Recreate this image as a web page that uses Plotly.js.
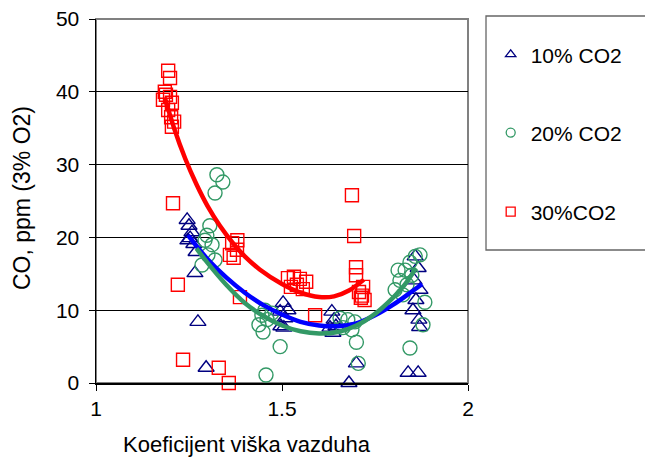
<!DOCTYPE html>
<html><head><meta charset="utf-8">
<script src="https://cdn.plot.ly/plotly-3.0.1.min.js"></script>
<style>html,body{margin:0;padding:0;background:#fff}#chart{width:645px;height:463px}</style>
</head><body><div id="chart"></div>
<script>
// 10% CO2 (triangles)
const x10 = [1.245,1.25,1.258,1.253,1.263,1.247,1.269,1.266,1.274,1.296,
  1.503,1.495,1.508,1.497,1.516,1.505,
  1.634,1.64,1.629,1.645,1.637,1.68,1.70,
  1.858,1.866,1.855,1.871,1.86,1.852,1.868,1.87,1.839,1.866];
const y10 = [22.4,21.6,20.7,19.9,19.1,19.6,18.0,15.1,8.4,2.1,
  11.0,9.8,8.9,7.8,10.0,7.6,
  9.8,8.7,7.6,7.8,6.9,0,2.7,
  17.4,15.8,14.1,12.8,11.4,10,8.7,7.7,1.4,1.4];
// 20% CO2 (circles)
const x20 = [1.325,1.341,1.32,
  1.306,1.293,1.312,1.301,1.32,1.285,1.298,
  1.446,1.46,1.438,1.473,1.454,1.449,1.495,1.457,
  1.656,1.677,1.696,1.664,1.688,1.70,1.705,
  1.804,1.817,1.831,1.844,1.858,1.871,1.812,1.825,1.836,1.849,1.884,1.879,1.844];
const y20 = [28.6,27.6,26.1,
  21.6,19.6,19,17.6,16.9,16.2,20.3,
  9.3,8.7,8,9.6,10,7.0,5.0,1.1,
  8.9,8.7,8.4,7.6,7.3,5.6,2.7,
  12.8,14.1,15.5,16.6,17.4,17.6,15.5,12.1,13.5,14.8,11.1,8.0,4.8];
// 30% CO2 (squares)
const x30 = [1.194,1.199,1.18,1.188,1.199,1.204,1.194,1.202,1.204,1.21,1.185,
  1.207,1.22,1.234,1.33,1.357,
  1.366,1.379,1.36,1.38,1.37,1.387,
  1.516,1.532,1.548,1.524,1.54,1.556,1.565,1.589,
  1.688,1.694,1.699,1.699,1.718,1.712,1.722,1.707,1.715];
const y30 = [42.9,41.9,38.9,39.6,39.3,38.5,37.5,36.5,35.2,35.9,40,
  24.7,13.5,3.2,2.1,0,
  19.2,18.3,17.6,19.6,17.2,11.8,
  14.4,14.6,14.3,13.2,13.5,12.9,13.9,9.3,
  25.8,20.2,15.9,14.8,13.2,11.7,11.4,12.5,12];
// trend lines
const tx10 = [1.247,1.30,1.35,1.40,1.45,1.50,1.55,1.60,1.65,1.70,1.75,1.80,1.85,1.877];
const ty10 = [20.3,17.0,14.5,12.4,10.7,9.4,8.4,7.9,7.8,8.2,9.3,10.8,12.6,13.6];
const tx20 = [1.27,1.30,1.35,1.40,1.45,1.50,1.55,1.60,1.65,1.70,1.75,1.80,1.83,1.86];
const ty20 = [18.5,16.5,13.5,11.0,9.2,7.9,7.1,6.8,7.0,7.9,9.5,11.8,13.5,15.8];
const tx30 = [1.185,1.21,1.24,1.27,1.30,1.333,1.37,1.40,1.44,1.50,1.55,1.60,1.64,1.68,1.72];
const ty30 = [39.2,35.0,30.8,27.3,24.3,21.6,19.1,17.4,15.6,13.6,12.4,11.8,11.9,12.7,14.2];
const names = ['10% CO2','20% CO2','30%CO2'];
const xTicks = [1,1.5,2];
const xTickText = ['1','1.5','2'];
const xTitle = 'Koeficijent viška vazduha';
const yTitle = 'CO, ppm (3% O2)';

const FONT = 'Liberation Sans, Arial, sans-serif';
const cBlue='#000080', cGreen='#339966', cRed='#FF0000';
const CLEAR='rgba(0,0,0,0)';
function pts(x,y,sym,col,size){return {x:x,y:y,type:'scatter',mode:'markers',showlegend:false,cliponaxis:false,
  marker:{symbol:sym,size:size,color:CLEAR,line:{color:col,width:1.4}},hoverinfo:'skip'};}
function trend(x,y,col){return {x:x,y:y,type:'scatter',mode:'lines',showlegend:false,line:{color:col,width:4.5,shape:'spline',smoothing:1},hoverinfo:'skip'};}
function leg(name,sym,col,lg){return {x:[null],y:[null],type:'scatter',mode:'markers',name:name,legend:lg,showlegend:true,
  marker:{symbol:sym,size:9,color:CLEAR,line:{color:col,width:1.3}}};}
const data = [
  pts(x10,y10,'triangle-up',cBlue,14),
  pts(x20,y20,'circle',cGreen,14),
  pts(x30,y30,'square',cRed,13),
  trend(tx10,ty10,'#0000FF'),
  trend(tx20,ty20,cGreen),
  trend(tx30,ty30,cRed),
  leg(names[0],'triangle-up',cBlue,'legend'),
  leg(names[1],'circle',cGreen,'legend2'),
  leg(names[2],'square',cRed,'legend3')
];
const legBase = {x:1.061,xanchor:'left',yanchor:'middle',bgcolor:CLEAR,borderwidth:0,font:{family:FONT,size:21,color:'#000'}};
const layout = {
  width:645,height:463,
  margin:{l:96,r:177,t:19,b:80,pad:0},
  paper_bgcolor:'#fff',plot_bgcolor:'#fff',
  font:{family:FONT,color:'#000'},
  xaxis:{range:[1,2],tickvals:xTicks,ticktext:xTickText,ticks:'outside',ticklen:6,tickcolor:'#000',
    showline:true,linecolor:'#000',linewidth:1.5,showgrid:false,zeroline:false,
    tickfont:{size:21,family:FONT}},
  yaxis:{range:[0,50],dtick:10,ticks:'outside',ticklen:6,tickcolor:'#000',
    showline:true,linecolor:'#000',linewidth:1.5,showgrid:true,gridcolor:'#000',gridwidth:1,zeroline:false,
    tickfont:{size:21,family:FONT},ticklabelstandoff:5},
  legend:Object.assign({},legBase,{y:0.902}),
  legend2:Object.assign({},legBase,{y:0.687}),
  legend3:Object.assign({},legBase,{y:0.47}),
  annotations:[
    {text:xTitle,xref:'paper',yref:'paper',x:0.406,y:-0.170,xanchor:'center',yanchor:'middle',showarrow:false,font:{family:FONT,size:22,color:'#000'}},
    {text:yTitle,xref:'paper',yref:'paper',x:-0.199,y:0.508,xanchor:'center',yanchor:'middle',textangle:-90,showarrow:false,font:{family:FONT,size:23,color:'#000'}}
  ],
  shapes:[
    {type:'rect',xref:'paper',yref:'paper',x0:0,x1:1,y0:0,y1:1,line:{color:'#808080',width:2},layer:'below'},
    {type:'rect',xref:'paper',yref:'paper',x0:1.0484,x1:1.5,y0:0.3654,y1:1.0082,line:{color:'#666',width:1.3}}
  ]
};
Plotly.newPlot('chart',data,layout,{staticPlot:true});
</script></body></html>
